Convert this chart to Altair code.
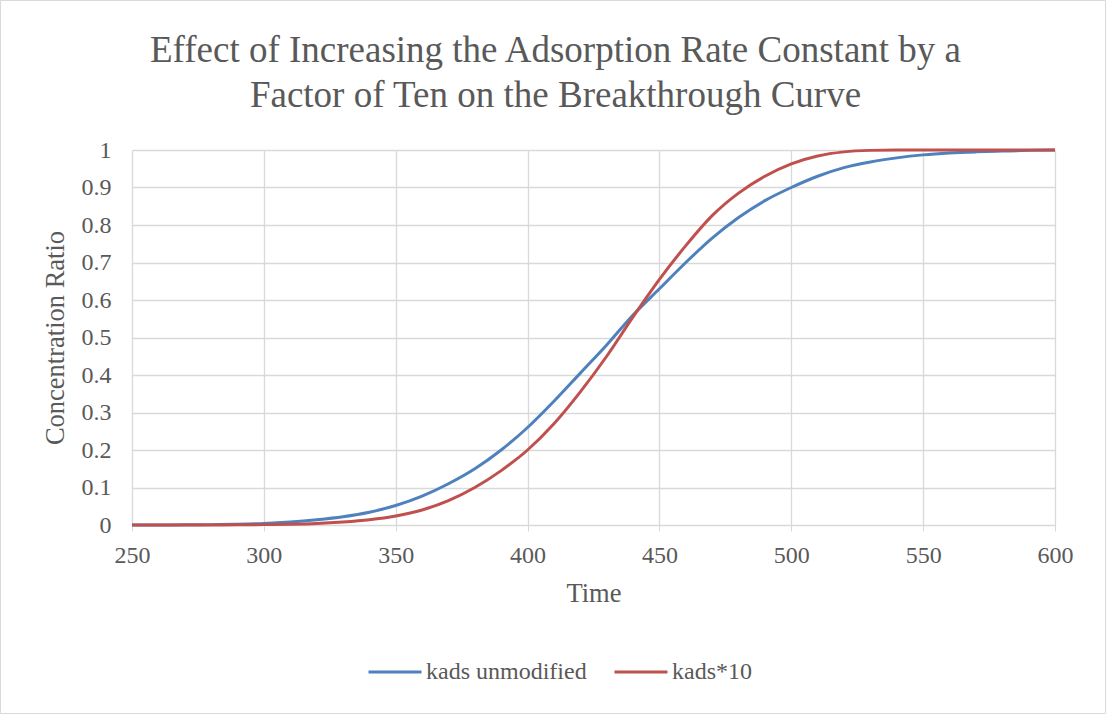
import altair as alt
import pandas as pd

# Breakthrough curves: outlet/inlet concentration ratio versus time
time = [250, 260, 270, 280, 290, 300, 310, 320, 330, 340, 350, 360, 370, 380,
        390, 400, 410, 420, 430, 440, 450, 460, 470, 480, 490, 500, 510, 520,
        530, 540, 550, 560, 570, 580, 590, 600]

kads_unmodified = [0.0, 0.0002, 0.0005, 0.001, 0.002, 0.004, 0.008, 0.014, 0.022,
                   0.034, 0.052, 0.077, 0.11, 0.15, 0.2, 0.26, 0.33, 0.405, 0.48,
                   0.56, 0.63, 0.70, 0.765, 0.82, 0.865, 0.90, 0.93, 0.953, 0.968,
                   0.979, 0.987, 0.992, 0.995, 0.997, 0.999, 1.0]

kads_times_10 = [0.0, 0.0, 0.0001, 0.0002, 0.0005, 0.001, 0.002, 0.004, 0.008,
                 0.014, 0.024, 0.04, 0.065, 0.1, 0.145, 0.2, 0.27, 0.355, 0.45,
                 0.555, 0.655, 0.745, 0.825, 0.885, 0.93, 0.963, 0.984, 0.995,
                 0.999, 1.0, 1.0, 1.0, 1.0, 1.0, 1.0, 1.0]

series_names = ["kads unmodified", "kads*10"]
series_colors = ["#4f81bd", "#c0504d"]

rows = []
for t, a, b in zip(time, kads_unmodified, kads_times_10):
    rows.append({"Time": t, "Ratio": a, "Series": series_names[0]})
    rows.append({"Time": t, "Ratio": b, "Series": series_names[1]})
df = pd.DataFrame(rows)

FONT = "Liberation Serif"
TEXT = "#595959"
GRID = "#d9d9d9"

W, H = 923, 375
PAD = {"left": 132, "top": 150, "right": 52, "bottom": 190}

lines = alt.Chart(df).mark_line(strokeWidth=3, interpolate="monotone").encode(
    x=alt.X("Time:Q",
            scale=alt.Scale(domain=[250, 600], nice=False, zero=False),
            axis=alt.Axis(values=list(range(250, 601, 50)), title="Time",
                          tickSize=6, tickColor=GRID, domainColor=GRID,
                          labelFlush=False, labelPadding=12, titlePadding=13)),
    y=alt.Y("Ratio:Q",
            scale=alt.Scale(domain=[0, 1], nice=False),
            axis=alt.Axis(values=[i / 10 for i in range(11)], title="Concentration Ratio",
                          ticks=False, domain=False, labelPadding=21, titlePadding=12,
                          labelFlush=False,
                          labelExpr="datum.value == 0 ? '0' : datum.value == 1 ? '1' : format(datum.value, '.1f')")),
    color=alt.Color("Series:N",
                    scale=alt.Scale(domain=series_names, range=series_colors),
                    legend=alt.Legend(title=None, orient="none", direction="horizontal",
                                      legendX=235, legendY=494,
                                      symbolType="stroke", symbolSize=2809,
                                      symbolStrokeWidth=3, labelOffset=3,
                                      labelLimit=400, columnPadding=21)),
)

# outer frame around the whole figure
frame = alt.Chart(pd.DataFrame({"k": [0]})).mark_rect(
    fill=None, stroke=GRID, strokeWidth=1
).encode(
    x=alt.value(-131.5), x2=alt.value(W + PAD["right"] - 1.5),
    y=alt.value(-149.5), y2=alt.value(H + PAD["bottom"] - 1.5),
)

chart = alt.layer(frame, lines).properties(
    width=W, height=H,
    autosize=alt.AutoSizeParams(type="none"),
    padding=PAD,
    title=alt.TitleParams(
        text=["Effect of Increasing the Adsorption Rate Constant by a",
              "Factor of Ten on the Breakthrough Curve"],
        font=FONT, fontSize=37, fontWeight="normal", color=TEXT,
        lineHeight=45, anchor="middle", dx=-38, offset=-115),
).configure(
    background="white"
).configure_axis(
    labelFont=FONT, labelFontSize=24, labelColor=TEXT,
    titleFont=FONT, titleFontSize=26.5, titleColor=TEXT, titleFontWeight="normal",
    gridColor=GRID, gridWidth=1.3,
).configure_legend(
    labelFont=FONT, labelFontSize=24, labelColor=TEXT,
).configure_view(stroke=None)

chart.save("out.html", embed_options={"renderer": "svg", "actions": False})
